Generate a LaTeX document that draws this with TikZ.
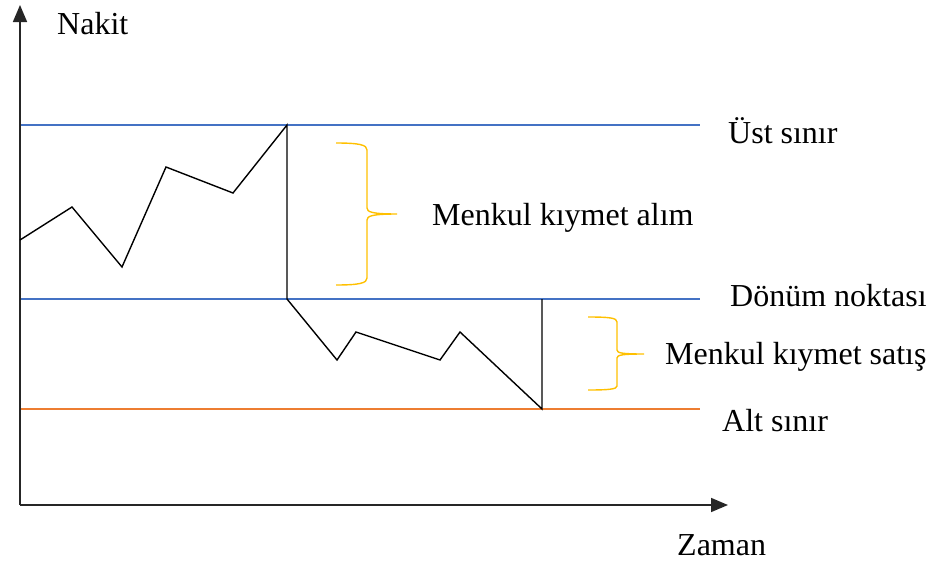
\documentclass[tikz,border=0pt]{standalone}
\usepackage{fontspec}
\setmainfont{Liberation Serif}
\usetikzlibrary{arrows.meta}
\definecolor{lineblue}{HTML}{4472C4}
\definecolor{lineorange}{HTML}{ED7D31}
\definecolor{braceyellow}{HTML}{FFC000}
\tikzset{
  axis/.style={line width=1.6pt,black!85,-{Triangle[length=17pt,width=14pt]}},
  blueline/.style={line width=1.1pt,lineblue},
  orangeline/.style={line width=1.1pt,lineorange},
  path/.style={line width=1.4pt,black},
  bracestyle/.style={line width=1.4pt,braceyellow},
  lbl/.style={font=\fontsize{32}{37}\selectfont,inner sep=0pt,anchor=west}
}
\begin{document}
\begin{tikzpicture}[x=1pt,y=-1pt]
\useasboundingbox (0,0) rectangle (935,565);
% axes
\coordinate (O) at (20,505);
\coordinate (Ytip) at (20,5);
\coordinate (Xtip) at (728,505);
% horizontal lines
\coordinate (U1) at (20,125); \coordinate (U2) at (700,125);
\coordinate (D1) at (20,299); \coordinate (D2) at (700,299);
\coordinate (A1) at (20,409); \coordinate (A2) at (700,409);
\draw[blueline] (U1) -- (U2);
\draw[blueline] (D1) -- (D2);
\draw[orangeline] (A1) -- (A2);
\draw[axis] (O) -- (Ytip);
\draw[axis] (O) -- (Xtip);
% cash path
\coordinate (p0) at (20,240);
\coordinate (p1) at (72,207);
\coordinate (p2) at (122,267);
\coordinate (p3) at (166,167);
\coordinate (p4) at (233,193);
\coordinate (p5) at (287,125);
\coordinate (p6) at (287,299);
\coordinate (p7) at (337,360);
\coordinate (p8) at (356,332);
\coordinate (p9) at (440,360);
\coordinate (p10) at (460,332);
\coordinate (p11) at (542,409);
\coordinate (p12) at (542,299);
\draw[path,line join=miter] (p0) -- (p1) -- (p2) -- (p3) -- (p4) -- (p5) -- (p6) -- (p7) -- (p8) -- (p9) -- (p10) -- (p11) -- (p12);
% braces
\draw[bracestyle] (336,143) .. controls (360,143) and (367,145) .. (367,150)
  -- (367,208) .. controls (367,212) and (372,214) .. (397,214)
  .. controls (372,214) and (367,216) .. (367,220)
  -- (367,278) .. controls (367,283) and (360,285) .. (336,285);
\draw[bracestyle] (588,317) .. controls (610,317) and (617,318) .. (617,322)
  -- (617,350) .. controls (617,353) and (622,354) .. (644,354)
  .. controls (622,354) and (617,355) .. (617,358)
  -- (617,386) .. controls (617,389) and (610,390) .. (588,390);
% labels
\node[lbl] (nakit) at (57,24) {Nakit};
\node[lbl] (zaman) at (677,545) {Zaman};
\node[lbl] (ust) at (728,131) {Üst sınır};
\node[lbl] (alim) at (432,218) {Menkul kıymet alım};
\node[lbl] (donum) at (730,296) {Dönüm noktası};
\node[lbl] (satis) at (665,357) {Menkul kıymet satış};
\node[lbl] (alt) at (722,421) {Alt sınır};
\end{tikzpicture}
\end{document}
